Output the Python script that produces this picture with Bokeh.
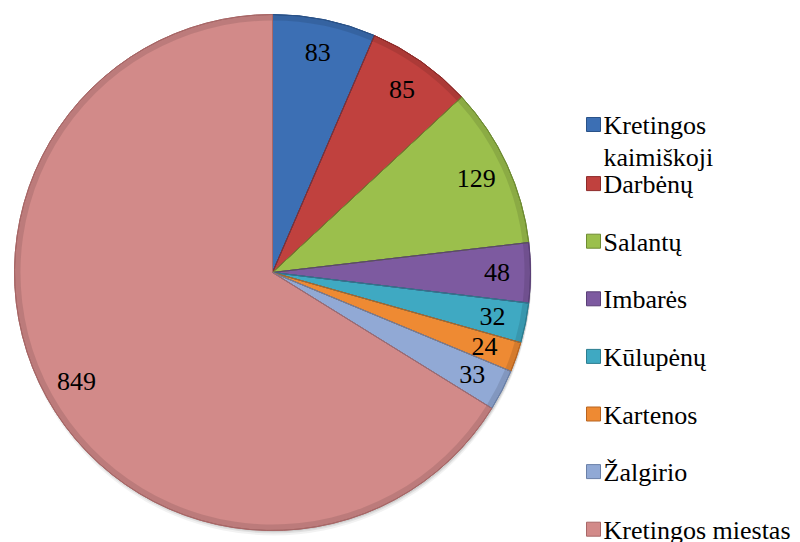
import math
from bokeh.plotting import figure
from bokeh.models import Range1d, ColumnDataSource
from bokeh.core.properties import value
from bokeh.embed import file_html
from bokeh.resources import INLINE

categories = ["Kretingos\nkaimiškoji", "Darbėnų", "Salantų", "Imbarės",
              "Kūlupėnų", "Kartenos", "Žalgirio", "Kretingos miestas"]
values = [83, 85, 129, 48, 32, 24, 33, 849]
colors = ["#3C6FB4", "#C0413E", "#9BBF4C", "#7D5AA0",
          "#3FA9C2", "#EE8A33", "#91A9D5", "#D28A89"]
edge_colors = ["#2A5288", "#8E2B29", "#6E8C32", "#5A3F77",
               "#2C7D90", "#B86420", "#6A80A8", "#A86767"]

SERIF = value("Liberation Serif")

W, H = 800, 542
p = figure(width=W, height=H, output_backend="svg", toolbar_location=None,
           x_range=Range1d(0, W), y_range=Range1d(0, H),
           x_axis_location=None, y_axis_location=None, min_border=0)
p.grid.visible = False
p.outline_line_color = None
p.background_fill_color = "white"

# page coords: data y = 542 - page y
cx, cy, R = 272, 542 - 272, 258
total = float(sum(values))

starts, ends, mids = [], [], []
acc = 0.0
for v in values:
    a0 = math.pi / 2 - 2 * math.pi * acc / total
    acc += v
    a1 = math.pi / 2 - 2 * math.pi * acc / total
    starts.append(a0)
    ends.append(a1)
    mids.append((a0 + a1) / 2)

# soft shadow under the pie (mostly below)
for off, alpha in [(5, 0.05), (3, 0.07), (1.5, 0.08)]:
    p.circle(x=[cx + 1], y=[cy - off], radius=R, fill_color="#000000",
             fill_alpha=alpha, line_color=None)

src = ColumnDataSource(dict(start=starts, end=ends, color=colors, edge=edge_colors))
p.wedge(x=cx, y=cy, radius=R, start_angle="start", end_angle="end",
        direction="clock", fill_color="color", line_color="edge", line_width=1,
        source=src)
# bevel: darker outer rim
p.annular_wedge(x=cx, y=cy, inner_radius=R - 6, outer_radius=R, start_angle="start",
                end_angle="end", direction="clock", fill_color="black", fill_alpha=0.10,
                line_color=None, source=src)
p.wedge(x=cx, y=cy, radius=R, start_angle="start", end_angle="end",
        direction="clock", fill_color=None, line_color="edge", line_width=1,
        source=src)

lr = 0.87 * R
lx = [cx + lr * math.cos(m) for m in mids]
ly = [cy + lr * math.sin(m) for m in mids]
p.text(x=lx, y=ly, text=[str(v) for v in values], text_font=SERIF,
       text_font_size="26px", text_align="center", text_baseline="middle",
       text_color="black")

# legend
leg_x, leg_top, leg_step, line_h = 593, 542 - 124, 57.6, 32
ys = [leg_top - leg_step * i - (1.5 if i > 0 else 0) for i in range(len(categories))]
p.rect(x=[leg_x] * len(categories), y=ys, width=14, height=14, fill_color=colors,
       line_color=edge_colors, line_width=1)
tx, ty, tt = [], [], []
for y, name in zip(ys, categories):
    for k, line in enumerate(name.split("\n")):
        tx.append(leg_x + 10)
        ty.append(y - 1 - line_h * k)
        tt.append(line)
p.text(x=tx, y=ty, text=tt, text_font=SERIF, text_font_size="26px",
       text_align="left", text_baseline="middle", text_color="black")

open("out.html", "w").write(file_html(p, INLINE))
